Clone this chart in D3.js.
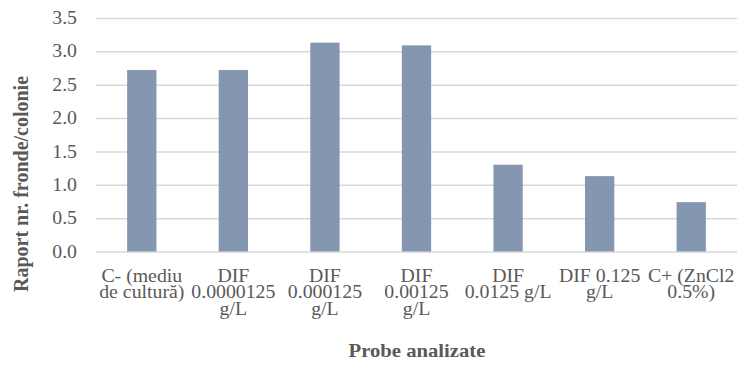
<!DOCTYPE html>
<html>
<head>
<meta charset="utf-8">
<script src="https://cdn.jsdelivr.net/npm/d3@7"></script>
<style>
  html, body { margin: 0; padding: 0; background: #fff; }
  svg { display: block; }
</style>
</head>
<body>
<svg id="chart" width="737" height="365"></svg>
<script>
// Category labels, split into the lines they wrap onto
const categories = [
  ["C- (mediu", "de cultură)"],
  ["DIF", "0.0000125", "g/L"],
  ["DIF", "0.000125", "g/L"],
  ["DIF", "0.00125", "g/L"],
  ["DIF", "0.0125 g/L"],
  ["DIF 0.125", "g/L"],
  ["C+ (ZnCl2", "0.5%)"]
];
const values = [2.72, 2.72, 3.13, 3.09, 1.30, 1.13, 0.74];
const yTicks = [0, 0.5, 1, 1.5, 2, 2.5, 3, 3.5];
const xTitle = "Probe analizate";
const yTitle = "Raport nr. fronde/colonie";

const svg = d3.select("#chart");
const margin = { left: 96, right: 0, top: 18, bottom: 113.5 };
const W = 737, H = 365;
const plotBottom = H - margin.bottom;
const stretch = 1.1; // horizontal widening of the serif lettering

const x = d3.scaleBand()
  .domain(d3.range(categories.length))
  .range([margin.left, margin.left + 641])
  .paddingInner(0.68)
  .paddingOuter(0.34);

const y = d3.scaleLinear().domain([0, 3.5]).range([plotBottom, margin.top]);

const font = "'Liberation Serif', 'Times New Roman', serif";
const textColor = "#595959";

// Gridlines
const yAxis = d3.axisLeft(y)
  .tickValues(yTicks)
  .tickFormat("")
  .tickSize(-(W - margin.left));

const gy = svg.append("g")
  .attr("transform", `translate(${margin.left},0)`)
  .call(yAxis);
gy.select(".domain").remove();
gy.selectAll(".tick line").attr("stroke", "#d9d9d9").attr("stroke-width", 1.5);

// Tick labels
const fmt = d3.format(".1f");
svg.append("g")
  .selectAll("text")
  .data(yTicks)
  .join("text")
  .attr("transform", d => `translate(77,${y(d)}) scale(${stretch},1)`)
  .attr("text-anchor", "end")
  .attr("dy", "0.34em")
  .attr("fill", textColor)
  .style("font-family", font)
  .style("font-size", "18px")
  .text(d => fmt(d));

// Bars
svg.append("g")
  .selectAll("rect")
  .data(values)
  .join("rect")
  .attr("x", (d, i) => x(i))
  .attr("width", x.bandwidth())
  .attr("y", d => y(d))
  .attr("height", d => y(0) - y(d))
  .attr("fill", "#8597b0");

// Category labels
const labels = svg.append("g")
  .selectAll("text")
  .data(categories)
  .join("text")
  .attr("text-anchor", "middle")
  .attr("fill", textColor)
  .style("font-family", font)
  .style("font-size", "18px")
  .attr("transform", (d, i) => `translate(${x(i) + x.bandwidth() / 2},282) scale(${stretch},1)`);
labels.selectAll("tspan")
  .data(d => d)
  .join("tspan")
  .attr("x", 0)
  .attr("y", (d, j) => j * 16.5)
  .text(d => d);

// Axis titles
svg.append("text")
  .attr("transform", `translate(417,357) scale(1.15,1)`)
  .attr("text-anchor", "middle")
  .attr("fill", textColor)
  .style("font-family", font)
  .style("font-size", "18px")
  .style("font-weight", "bold")
  .text(xTitle);

svg.append("text")
  .attr("transform", "translate(28,184) rotate(-90)")
  .attr("text-anchor", "middle")
  .attr("fill", textColor)
  .style("font-family", font)
  .style("font-size", "20px")
  .style("font-weight", "bold")
  .text(yTitle);
</script>
</body>
</html>
